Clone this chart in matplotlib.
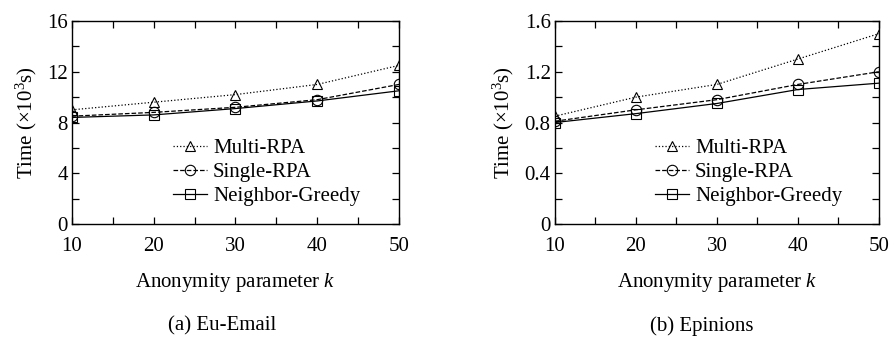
import matplotlib
matplotlib.use("Agg")
import matplotlib.pyplot as plt
from matplotlib.ticker import MultipleLocator

plt.rcParams["font.family"] = ["Liberation Serif", "DejaVu Serif"]
plt.rcParams["mathtext.fontset"] = "custom"
plt.rcParams["mathtext.rm"] = "Liberation Serif"
plt.rcParams["mathtext.it"] = "Liberation Serif:italic"

k = [10, 20, 30, 40, 50]

email_multi = [9.0, 9.6, 10.2, 11.0, 12.5]
email_single = [8.5, 8.8, 9.2, 9.8, 11.0]
email_greedy = [8.4, 8.6, 9.1, 9.7, 10.5]

epin_multi = [0.85, 1.0, 1.1, 1.3, 1.5]
epin_single = [0.81, 0.9, 0.98, 1.1, 1.2]
epin_greedy = [0.8, 0.87, 0.95, 1.06, 1.11]

labels = ["Multi-RPA", "Single-RPA", "Neighbor-Greedy"]
styles = [(":", "^"), ("--", "o"), ("-", "s")]

fs = 15


def panel(ax, series, ymax, ystep, yminor, yticklabels, caption, cx):
    for vals, lab, (ls, mk) in zip(series, labels, styles):
        ax.plot(k, vals, ls=ls, marker=mk, color="black", lw=0.9,
                markersize=7.5, fillstyle="none", mew=0.8, label=lab)
    ax.set_xlim(10, 50)
    ax.set_ylim(0, ymax)
    ax.set_xticks(k)
    ax.xaxis.set_minor_locator(MultipleLocator(5))
    ax.set_yticks([i * ystep for i in range(5)])
    ax.set_yticklabels(yticklabels)
    ax.yaxis.set_minor_locator(MultipleLocator(yminor))
    ax.tick_params(which="both", direction="in", top=True, right=True,
                   labelsize=fs, width=0.9)
    ax.tick_params(which="major", length=5)
    ax.tick_params(which="minor", length=5)
    ax.tick_params(axis="x", pad=9)
    ax.tick_params(axis="y", pad=3)
    for s in ax.spines.values():
        s.set_linewidth(1.0)
    ax.set_xlabel("Anonymity parameter $k$", fontsize=fs, labelpad=11)
    ax.set_ylabel("Time (×10$^3$s)", fontsize=fs, labelpad=6)
    ax.legend(loc="upper left", bbox_to_anchor=(0.31, 0.42), frameon=False,
              fontsize=fs, numpoints=1, handlelength=1.6, handletextpad=0.3,
              labelspacing=0.2, borderpad=0, borderaxespad=0)
    fig.text(cx, 0.035, caption, ha="center", va="center", fontsize=fs)


fig = plt.figure(figsize=(8.95, 3.38), dpi=100)
ax1 = fig.add_axes([0.0804, 0.337, 0.3654, 0.601])
ax2 = fig.add_axes([0.620, 0.337, 0.362, 0.601])

panel(ax1, [email_multi, email_single, email_greedy], 16, 4, 2,
      ["0", "4", "8", "12", "16"], "(a) Eu-Email", 222 / 895)
panel(ax2, [epin_multi, epin_single, epin_greedy], 1.6, 0.4, 0.2,
      ["0", "0.4", "0.8", "1.2", "1.6"], "(b) Epinions", 702 / 895)

fig.savefig("out.png", dpi=100)
